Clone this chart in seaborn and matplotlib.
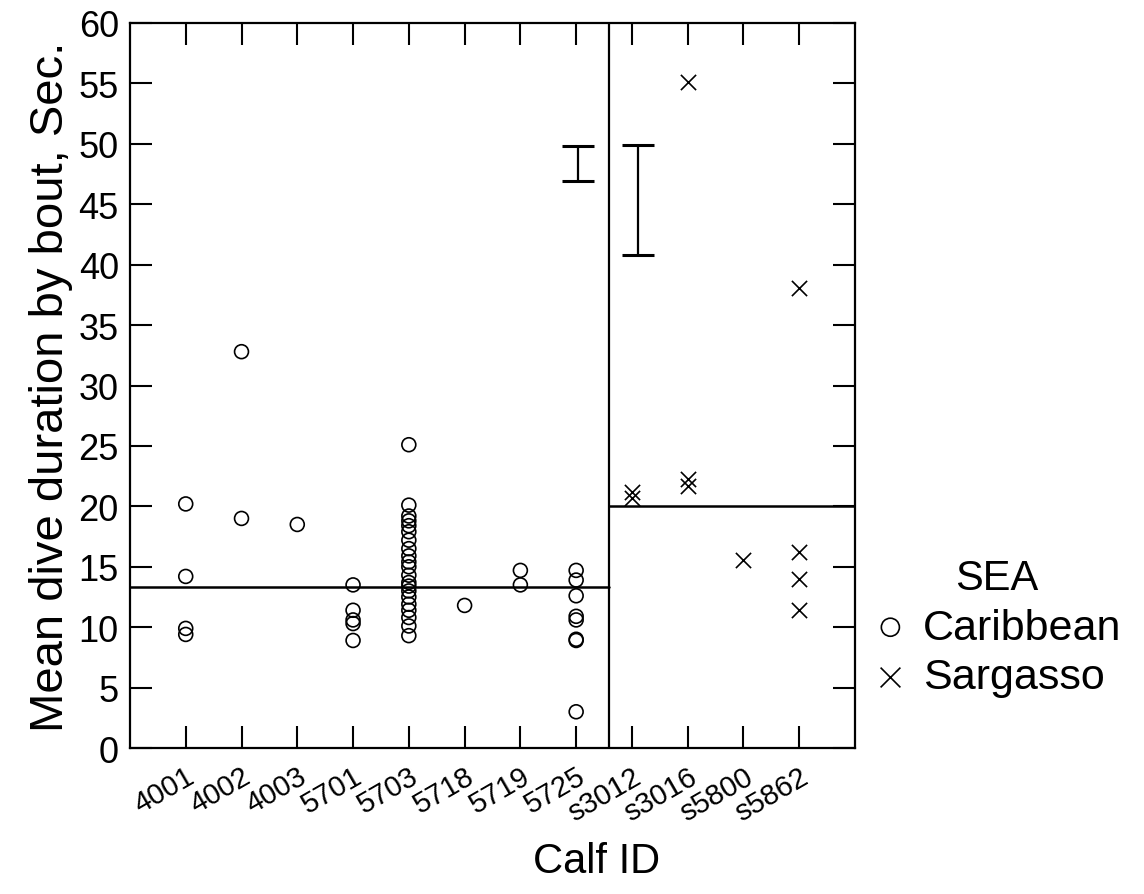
import pandas as pd
import matplotlib
matplotlib.use("Agg")
import matplotlib.pyplot as plt
import seaborn as sns

# --- data ---
calves = ['4001', '4002', '4003', '5701', '5703', '5718', '5719', '5725',
          's3012', 's3016', 's5800', 's5862']

carib_calf = (['4001'] * 4 + ['4002'] * 2 + ['4003'] + ['5701'] * 5 + ['5703'] * 21
              + ['5718'] + ['5719'] * 2 + ['5725'] * 8)
carib_dur = [20.2, 14.2, 9.9, 9.4,
             32.8, 19.0,
             18.5,
             13.5, 11.4, 10.6, 10.3, 8.9,
             25.1, 20.1, 19.2, 18.8, 18.4, 17.9, 17.2, 16.5, 15.9, 15.4, 15.0,
             14.3, 13.7, 13.4, 13.0, 12.5, 11.9, 11.4, 10.8, 10.1, 9.3,
             11.8,
             14.7, 13.5,
             14.7, 13.9, 12.6, 10.9, 10.6, 9.0, 8.9, 3.0]

sarg_calf = ['s3012'] * 2 + ['s3016'] * 3 + ['s5800'] + ['s5862'] * 4
sarg_dur = [21.2, 20.7,
            55.1, 22.3, 21.7,
            15.6,
            38.1, 16.2, 14.0, 11.4]

sea_means = [13.3, 20.0]          # Caribbean, Sargasso
ci_low = [46.9, 40.8]
ci_high = [49.8, 49.9]
ci_calf = ['5725', 's3012']       # where the intervals are drawn
ci_shift = [0.03, 0.1]

pos = {c: i for i, c in enumerate(calves)}
carib = pd.DataFrame({'calf': carib_calf, 'dur': carib_dur})
carib['x'] = carib['calf'].map(pos)
sarg = pd.DataFrame({'calf': sarg_calf, 'dur': sarg_dur})
sarg['x'] = sarg['calf'].map(pos)

sns.set_theme(style="ticks")
plt.rcParams['font.family'] = ['Liberation Sans', 'DejaVu Sans']
plt.rcParams['text.color'] = 'black'
plt.rcParams['axes.labelcolor'] = 'black'
plt.rcParams['xtick.color'] = 'black'
plt.rcParams['ytick.color'] = 'black'

fig, ax = plt.subplots(figsize=(11.44, 8.95), dpi=100)
fig.subplots_adjust(left=0.1136, right=0.7474, bottom=0.1631, top=0.9732)

sns.scatterplot(data=carib, x='x', y='dur', marker='o', s=100, facecolors='none',
                edgecolor='black', linewidth=1.2, label='Caribbean', ax=ax)
sns.scatterplot(data=sarg, x='x', y='dur', marker='x', s=120, color='black',
                linewidth=1.2, label='Sargasso', ax=ax)

# split between the two seas, and the mean of each side
split = 7.58
ax.axvline(split, color='black', lw=1.6)
ax.plot([-1, split], [sea_means[0]] * 2, color='black', lw=1.8)
ax.plot([split, 12], [sea_means[1]] * 2, color='black', lw=1.8)

for c, lo, hi, dx in zip(ci_calf, ci_low, ci_high, ci_shift):
    ax.errorbar(pos[c] + dx, (lo + hi) / 2, yerr=(hi - lo) / 2, fmt='none',
                ecolor='black', elinewidth=1.6, capsize=11.5, capthick=2.2)

ax.set_xlim(-1, 12)
ax.set_ylim(0, 60)
ax.set_yticks(range(0, 61, 5))
ax.set_xticks(range(len(calves)))
ax.set_xticklabels(calves, rotation=30, ha='right', rotation_mode='anchor', fontsize=21)
ax.tick_params(axis='y', labelsize=26)
ax.tick_params(direction='in', length=16, width=1.5, top=True, right=True,
               colors='black', pad=8)
ax.tick_params(axis='x', pad=10)
for sp in ax.spines.values():
    sp.set_linewidth(1.6)
    sp.set_color('black')

ax.set_xlabel('Calf ID', fontsize=30, labelpad=16)
ax.xaxis.set_label_coords(0.644, -0.128)
ax.set_ylabel('Mean dive duration by bout, Sec.', fontsize=34, labelpad=4)

leg = ax.legend(title='SEA', frameon=False, loc='upper left',
                bbox_to_anchor=(1.025, 0.262), fontsize=31, title_fontsize=30,
                borderaxespad=0, borderpad=0, handlelength=0.8,
                handletextpad=0.35, labelspacing=0.22, markerscale=1.3)
leg._legend_box.align = 'center'

plt.savefig('out.png', dpi=100)
